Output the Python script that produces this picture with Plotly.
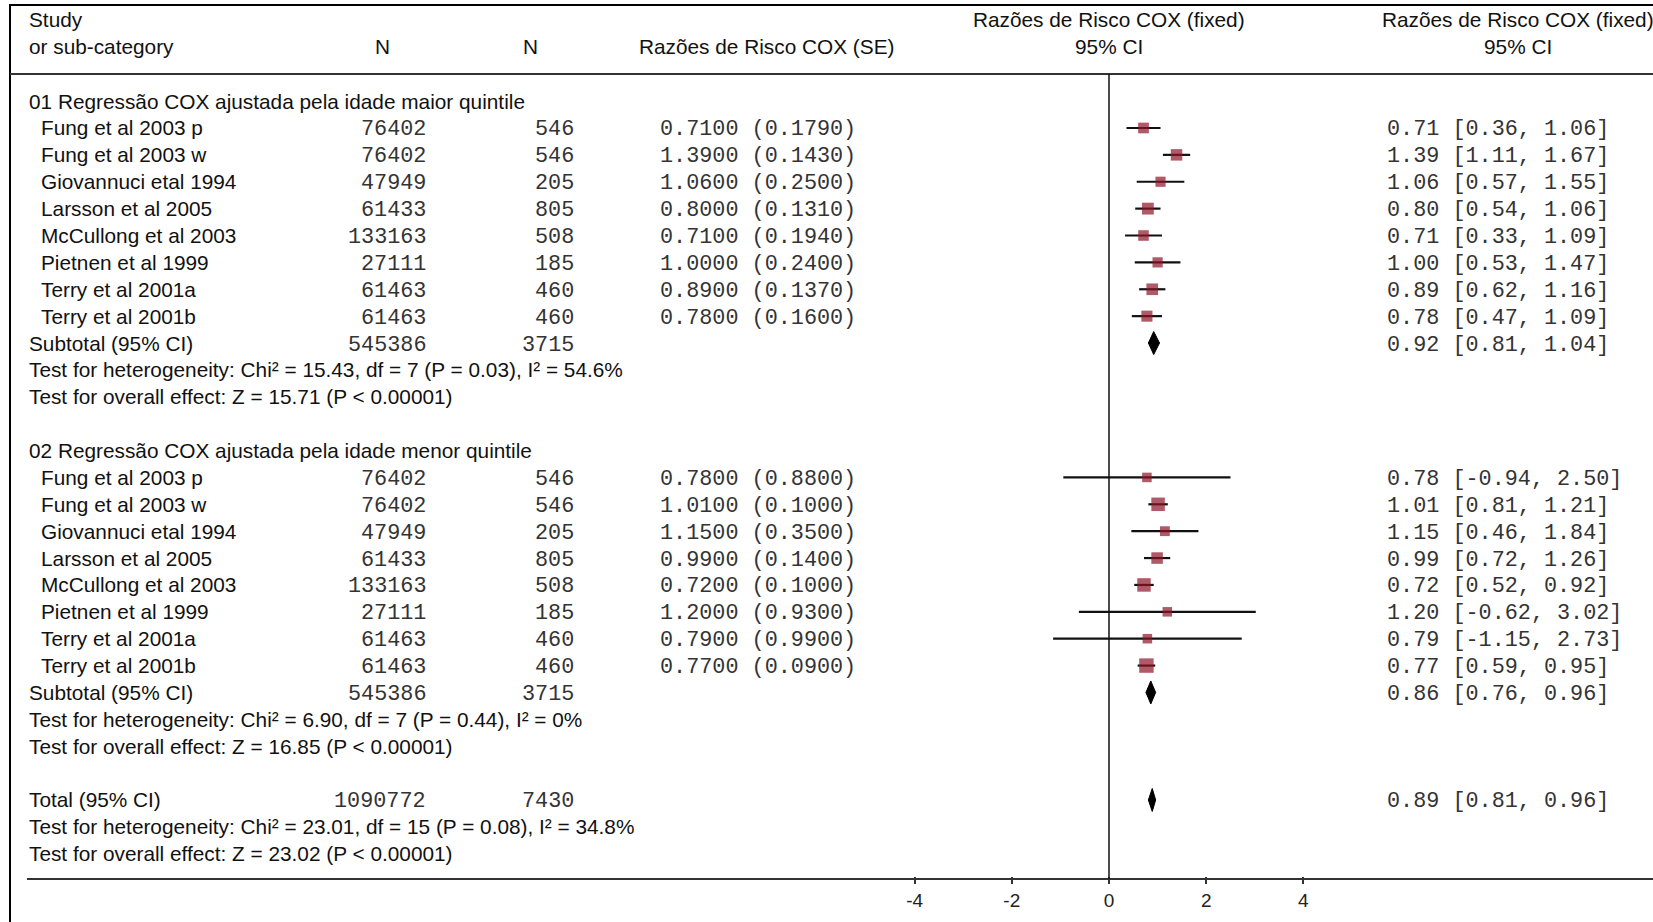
import plotly.graph_objects as go

# ---------------- data ----------------
studies = ["Fung et al 2003 p", "Fung et al 2003 w", "Giovannuci etal 1994",
           "Larsson et al 2005", "McCullong et al 2003", "Pietnen et al 1999",
           "Terry et al 2001a", "Terry et al 2001b"]
n_total = [76402, 76402, 47949, 61433, 133163, 27111, 61463, 61463]
n_cases = [546, 546, 205, 805, 508, 185, 460, 460]

g1_title = "01 Regressão COX ajustada pela idade maior quintile"
g1_hr = [0.71, 1.39, 1.06, 0.80, 0.71, 1.00, 0.89, 0.78]
g1_se = [0.179, 0.143, 0.250, 0.131, 0.194, 0.240, 0.137, 0.160]
g1_lo = [0.36, 1.11, 0.57, 0.54, 0.33, 0.53, 0.62, 0.47]
g1_hi = [1.06, 1.67, 1.55, 1.06, 1.09, 1.47, 1.16, 1.09]
g1_sub = (0.92, 0.81, 1.04)
g1_het = "Test for heterogeneity: Chi² = 15.43, df = 7 (P = 0.03), I² = 54.6%"
g1_z = "Test for overall effect: Z = 15.71 (P &lt; 0.00001)"

g2_title = "02 Regressão COX ajustada pela idade menor quintile"
g2_hr = [0.78, 1.01, 1.15, 0.99, 0.72, 1.20, 0.79, 0.77]
g2_se = [0.88, 0.10, 0.35, 0.14, 0.10, 0.93, 0.99, 0.09]
g2_lo = [-0.94, 0.81, 0.46, 0.72, 0.52, -0.62, -1.15, 0.59]
g2_hi = [2.50, 1.21, 1.84, 1.26, 0.92, 3.02, 2.73, 0.95]
g2_sub = (0.86, 0.76, 0.96)
g2_het = "Test for heterogeneity: Chi² = 6.90, df = 7 (P = 0.44), I² = 0%"
g2_z = "Test for overall effect: Z = 16.85 (P &lt; 0.00001)"

sub_n_total = 545386
sub_n_cases = 3715
tot_n_total = 1090772
tot_n_cases = 7430
total = (0.89, 0.81, 0.96)
tot_het = "Test for heterogeneity: Chi² = 23.01, df = 15 (P = 0.08), I² = 34.8%"
tot_z = "Test for overall effect: Z = 23.02 (P &lt; 0.00001)"

x_ticks = [-4, -2, 0, 2, 4]

# ---------------- layout constants (pixels) ----------------
W, H = 1653, 922
PLOT_BOTTOM = 876          # bottom of plotting area in px
Y0, STEP = 101.1, 26.88    # pixel of row 0 and row spacing
X_ZERO, X_UNIT = 1109, 48.6

def row_of(px):
    return (px - Y0) / STEP

def py(px):
    return (PLOT_BOTTOM - px) / PLOT_BOTTOM

def px_(x):
    return x / W

SANS = "Liberation Sans, Arial, sans-serif"
MONO = "Liberation Mono, Courier New, monospace"
FS = 20.8
FM = 21.8
RED = "#8e1428"

fig = go.Figure()
ann = []

def txt(x, y, s, anchor="left", mono=False):
    ann.append(dict(x=px_(x), xref="paper", y=y, yref="y", text=s, showarrow=False,
                    xanchor=anchor, yanchor="middle", yshift=-2 if mono else 0,
                    font=dict(family=MONO if mono else SANS, size=FM if mono else FS,
                              color="#333" if mono else "#111")))

def diamond(y, est, lo, hi):
    h = 11.5 / STEP
    fig.add_trace(go.Scatter(x=[lo, est, hi, est, lo], y=[y, y - h, y, y + h, y],
                             mode="lines", fill="toself", fillcolor="#000",
                             line=dict(color="#000", width=1), hoverinfo="skip",
                             showlegend=False))

def group(start, title, hr, se, lo, hi, sub, het, z):
    txt(27, start, title)
    rows = [start + 1 + i for i in range(len(hr))]
    for i, r in enumerate(rows):
        txt(39, r, studies[i])
        txt(428, r, str(n_total[i]), "right", True)
        txt(576, r, str(n_cases[i]), "right", True)
        txt(658, r, f"{hr[i]:.4f} ({se[i]:.4f})", "left", True)
        txt(1385, r, f"{hr[i]:.2f} [{lo[i]:.2f}, {hi[i]:.2f}]", "left", True)
    sizes = [9.5 + 0.04 / (s * s) for s in se]
    fig.add_trace(go.Scatter(
        x=hr, y=rows, mode="markers",
        marker=dict(symbol="square", size=sizes, color=RED, line=dict(width=0)),
        error_x=dict(type="data", symmetric=False,
                     array=[h - e for h, e in zip(hi, hr)],
                     arrayminus=[e - l for e, l in zip(hr, lo)],
                     color="#111", thickness=2.2, width=0),
        showlegend=False))
    srow = start + 1 + len(hr)
    txt(27, srow, "Subtotal (95% CI)")
    txt(428, srow, str(sub_n_total), "right", True)
    txt(576, srow, str(sub_n_cases), "right", True)
    txt(1385, srow, f"{sub[0]:.2f} [{sub[1]:.2f}, {sub[2]:.2f}]", "left", True)
    diamond(srow, *sub)
    txt(27, srow + 1, het)
    txt(27, srow + 2, z)
    return srow + 4

nxt = group(0, g1_title, g1_hr, g1_se, g1_lo, g1_hi, g1_sub, g1_het, g1_z)
nxt = group(nxt, g2_title, g2_hr, g2_se, g2_lo, g2_hi, g2_sub, g2_het, g2_z)

# total
txt(27, nxt, "Total (95% CI)")
txt(428, nxt, str(tot_n_total), "right", True)
txt(576, nxt, str(tot_n_cases), "right", True)
txt(1385, nxt, f"{total[0]:.2f} [{total[1]:.2f}, {total[2]:.2f}]", "left", True)
diamond(nxt, *total)
txt(27, nxt + 1, tot_het)
txt(27, nxt + 2, tot_z)

# headers
r1, r2 = row_of(19), row_of(46)
txt(27, r1, "Study")
txt(27, r2, "or sub-category")
txt(382, r2, "N", "center")
txt(530, r2, "N", "center")
txt(766, r2, "Razões de Risco COX (SE)", "center")
txt(1109, r1, "Razões de Risco COX (fixed)", "center")
txt(1109, r2, "95% CI", "center")
txt(1518, r1, "Razões de Risco COX (fixed)", "center")
txt(1518, r2, "95% CI", "center")

shapes = [
    # outer frame (top & left)
    dict(type="line", xref="paper", yref="paper", x0=px_(10), x1=1.0, y0=py(5), y1=py(5),
         line=dict(color="#000", width=2)),
    dict(type="line", xref="paper", yref="paper", x0=px_(10), x1=px_(10), y0=py(4), y1=py(925),
         line=dict(color="#000", width=2)),
    # header separator
    dict(type="line", xref="paper", yref="paper", x0=px_(10), x1=1.0, y0=py(74), y1=py(74),
         line=dict(color="#333", width=2)),
    # axis line
    dict(type="line", xref="paper", yref="paper", x0=px_(27), x1=1.0, y0=py(879), y1=py(879),
         line=dict(color="#333", width=2)),
    # line of no effect
    dict(type="line", xref="x", yref="paper", x0=0, x1=0, y0=py(879), y1=py(74),
         line=dict(color="#111", width=1.5)),
]

fig.update_layout(
    width=W, height=H,
    margin=dict(l=0, r=0, t=0, b=H - PLOT_BOTTOM, pad=0),
    paper_bgcolor="white", plot_bgcolor="white",
    xaxis=dict(range=[-X_ZERO / X_UNIT, (W - X_ZERO) / X_UNIT], domain=[0, 1],
               showgrid=False, zeroline=False, showline=False,
               tickmode="array", tickvals=x_ticks, ticktext=[str(t) for t in x_ticks],
               ticks="outside", ticklen=7, tickwidth=1.5, tickcolor="#333",
               tickfont=dict(family=SANS, size=19, color="#222"), fixedrange=True),
    yaxis=dict(range=[row_of(PLOT_BOTTOM), row_of(0)], visible=False, fixedrange=True),
    annotations=ann, shapes=shapes, showlegend=False,
)

fig.write_html("out.html")
